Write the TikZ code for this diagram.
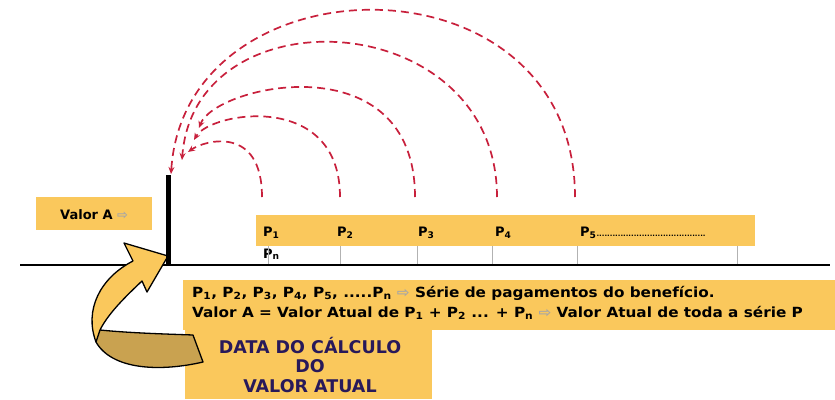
\documentclass[tikz,border=0pt]{standalone}
\usepackage{fontspec}
\setmainfont{DejaVu Sans}
\newfontfamily\largofont[FakeStretch=1.09]{DejaVu Sans}
\usetikzlibrary{arrows.meta}
\definecolor{boxfill}{RGB}{250,200,92}
\definecolor{tailfill}{RGB}{201,162,80}
\definecolor{arcred}{RGB}{200,32,60}
\definecolor{navytext}{RGB}{40,25,90}
\begin{document}
\begin{tikzpicture}[x=1pt, y=-1pt,
  caixa/.style={fill=boxfill, inner sep=0pt},
  rotulo/.style={anchor=base west, inner sep=0pt, font=\bfseries\fontsize{13}{15}\selectfont},
  tique/.style={draw=gray!60, line width=0.6pt},
  retorno/.style={draw=arcred, line width=1.7pt, dash pattern=on 8pt off 5pt,
    -{Stealth[length=7pt,width=6pt]}},
  seta/.style={draw=black, line width=1.3pt, line join=round}]
\useasboundingbox (0,0) rectangle (835,399);

% Boxes
\node[caixa, anchor=north west, minimum width=116pt, minimum height=33pt] (valor) at (36,197) {};
\node[caixa, anchor=north west, minimum width=499pt, minimum height=31pt] (serie) at (256,215) {};
\node[caixa, anchor=north west, minimum width=652pt, minimum height=50pt] (info) at (183,280) {};
\node[caixa, anchor=north west, minimum width=247pt, minimum height=73pt] (data) at (185,326) {};

% Texts
\node[rotulo] (valortxt) at (60,219) {Valor A \textcolor{gray!70}{⇨}};
\node[rotulo] (p1) at (263,236) {P\textsubscript{1}};
\node[rotulo] (pn) at (263,258) {P\textsubscript{n}};
\node[rotulo] (p2) at (337,236) {P\textsubscript{2}};
\node[rotulo] (p3) at (418,236) {P\textsubscript{3}};
\node[rotulo] (p4) at (495,236) {P\textsubscript{4}};
\node[rotulo] (p5) at (580,236) {P\textsubscript{5}{\fontsize{7}{8}\selectfont.........................................}};
\node[anchor=west, inner sep=0pt, align=left, font=\largofont\bfseries\fontsize{14}{20}\selectfont] (infotxt) at (192,303)
  {P\textsubscript{1}, P\textsubscript{2}, P\textsubscript{3}, P\textsubscript{4}, P\textsubscript{5}, .....P\textsubscript{n} \textcolor{gray!70}{⇨} Série de pagamentos do benefício.\\
   Valor A = Valor Atual de P\textsubscript{1} + P\textsubscript{2} ... + P\textsubscript{n} \textcolor{gray!70}{⇨} Valor Atual de toda a série P};
\node[align=center, inner sep=0pt, text=navytext, font=\bfseries\fontsize{17.5}{19.5}\selectfont] (datatxt) at (310,365)
  {DATA DO CÁLCULO\\DO\\VALOR ATUAL};

% Time axis and ticks
\coordinate (eixoA) at (20,265);
\coordinate (eixoB) at (830,265);
\draw[line width=2.5pt] (eixoA) -- (eixoB);
\foreach \x in {268,340,417,492,577,737}
  \draw[tique] (\x,246) -- (\x,264);

% Curved yellow arrow
\fill[tailfill] (100,330) .. controls (130,333) and (165,334) .. (193,335) -- (203,362)
  .. controls (160,372) and (112,370) .. (96,342) -- cycle;
\draw[seta] (100,330) .. controls (130,333) and (165,334) .. (193,335) -- (203,362)
  .. controls (160,372) and (112,370) .. (96,342);
\filldraw[seta, fill=boxfill] (168,256) -- (147,292) -- (142,281) .. controls (124,298) and (108,314) .. (100,330)
  -- (96,342) .. controls (84,310) and (100,278) .. (133,261) -- (124,243) -- cycle;

% Date bar
\coordinate (base) at (168,266);
\coordinate (topo) at (168,175);
\draw[line width=5pt] (base) -- (topo);

% Discount arcs
\coordinate (a1) at (262,197);
\coordinate (a2) at (340,197);
\coordinate (a3) at (415,197);
\coordinate (a4) at (497,197);
\coordinate (a5) at (575,197);
\coordinate (e1) at (188,152);
\coordinate (e2) at (194,140);
\coordinate (e3) at (199,128);
\coordinate (e4) at (182,160);
\coordinate (e5) at (171,174);
\draw[retorno] (a1) .. controls (262,125) and (205,140) .. (e1);
\draw[retorno] (a2) .. controls (340,90) and (210,112) .. (e2);
\draw[retorno] (a3) .. controls (415,41) and (215,85) .. (e3);
\draw[retorno] (a4) .. controls (497,6) and (195,-10) .. (e4);
\draw[retorno] (a5) .. controls (575,-51) and (185,-45) .. (e5);
\end{tikzpicture}
\end{document}
